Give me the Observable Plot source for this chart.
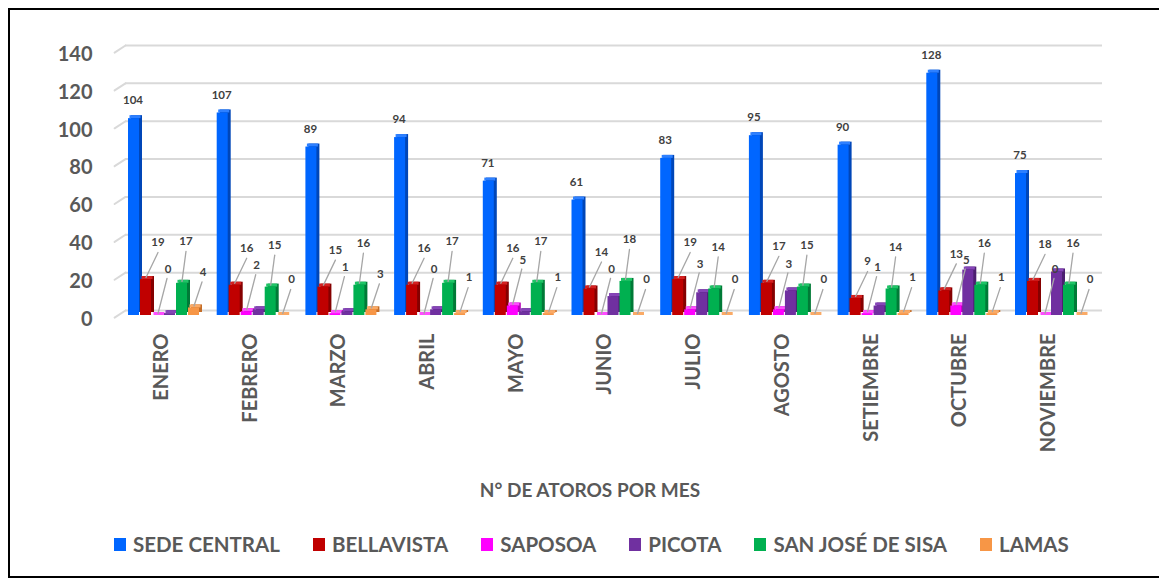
<!DOCTYPE html>
<html><head><meta charset="utf-8">
<script src="https://cdn.jsdelivr.net/npm/d3@7"></script>
<script src="https://cdn.jsdelivr.net/npm/@observablehq/plot@0.6"></script>
<style>
body{margin:0;background:#fff;font-family:Lato,"Open Sans",sans-serif;}
#wrap{position:relative;width:1159px;height:580px;overflow:hidden;background:#fff;}
#frame{position:absolute;left:8px;top:8px;width:1170px;height:570px;border:2px solid #000;box-sizing:border-box;}
#chart{position:absolute;left:0;top:0;}
#title{position:absolute;top:478px;left:0;width:1180px;text-align:center;font-weight:bold;font-size:19px;color:#595959;}
#legend{position:absolute;top:532px;left:114px;display:flex;align-items:center;gap:33px;font-weight:bold;font-size:20.5px;color:#595959;white-space:nowrap;}
#legend .it{display:flex;align-items:center;gap:7px;}
#legend .sw{width:12px;height:13px;display:inline-block;}
</style></head>
<body>
<div id="wrap">
<div id="frame"></div>
<div id="chart"></div>
<div id="title">N° DE ATOROS POR MES</div>
<div id="legend"></div>
</div>
<script>
const months = ["ENERO","FEBRERO","MARZO","ABRIL","MAYO","JUNIO","JULIO","AGOSTO","SETIEMBRE","OCTUBRE","NOVIEMBRE"];
const seriesNames = ["SEDE CENTRAL","BELLAVISTA","SAPOSOA","PICOTA","SAN JOSÉ DE SISA","LAMAS"];
const sedeCentral = [104,107,89,94,71,61,83,95,90,128,75];
const bellavista  = [19,16,15,16,16,14,19,17,9,13,18];
const saposoa     = [0,2,1,0,5,0,3,3,1,5,0];
const picota      = [1,3,2,3,2,10,12,13,5,24,23];
const sanJose     = [17,15,16,17,17,18,14,15,14,16,16];
const lamas       = [4,0,3,1,1,0,0,0,1,1,0];
const yTicks = [0,20,40,60,80,100,120,140];

const seriesValues = [sedeCentral, bellavista, saposoa, picota, sanJose, lamas];
const frontColors = ["#0066FF","#C00000","#FF00FF","#7030A0","#00B050","#F79646"];
const sideColors  = ["#0046B8","#850000","#B800B8","#4C1F70","#007A37","#C46D28"];
const topColors   = ["#2E80FF","#D42020","#FF4DFF","#8645B8","#1FC466","#FAAA66"];
// label placement style per series (offsets in px from the bar's top-front centre)
const labelStyle = [
  {label: true,  line: false, lx: -1, ly: -18},
  {label: true,  line: true,  ex: 12, ey: -27, lx: 12, ly: -37},
  {label: true,  line: true,  ex: 9,  ey: -37, lx: 10, ly: -46},
  {label: false},
  {label: true,  line: true,  ex: 4,  ey: -32, lx: 4,  ly: -42},
  {label: true,  line: true,  ex: 8,  ey: -26, lx: 9,  ly: -36}
];

const rows = seriesNames.map((s, i) => months.map((m, j) => ({month: m, series: s, value: seriesValues[i][j]})));

const BW = 72, SLOT = 12, FRONT = 11, DEPTH = 3;
const lineShape = {draw(context, length) { context.moveTo(0, 0); context.lineTo(0, -length); }};

const marks = [
  Plot.ruleY(yTicks, {y: d => d, stroke: "#d9d9d9", strokeWidth: 2, dy: -5}),
  Plot.vector(yTicks, {y: d => d, frameAnchor: "left", dy: -5, anchor: "start", length: 13, rotate: 237, shape: lineShape, stroke: "#d9d9d9", strokeWidth: 2})
];
seriesNames.forEach((s, i) => {
  const insetLeft = i * SLOT, insetRight = BW - i * SLOT - FRONT;
  marks.push(Plot.barY(rows[i], {x: "month", y: "value", fill: sideColors[i], insetLeft, insetRight, dx: DEPTH, dy: -DEPTH}));
  marks.push(Plot.barY(rows[i], {x: "month", y1: "value", y2: "value", fill: topColors[i], insetLeft, insetRight, insetTop: -DEPTH, dx: DEPTH / 2}));
  marks.push(Plot.barY(rows[i], {x: "month", y: "value", fill: frontColors[i], insetLeft, insetRight}));
});
seriesNames.forEach((s, i) => {
  const st = labelStyle[i];
  const cx = i * SLOT + FRONT / 2 - BW / 2;
  if (st.line) {
    const sx = 0, sy = -2;
    const ddx = st.ex - sx, ddy = st.ey - sy;
    marks.push(Plot.vector(rows[i], {x: "month", y: "value", dx: cx + sx, dy: sy, anchor: "start",
      length: Math.hypot(ddx, ddy), rotate: Math.atan2(ddx, -ddy) * 180 / Math.PI,
      shape: lineShape, stroke: "#a6a6a6", strokeWidth: 1.3}));
  }
  if (st.label) {
    marks.push(Plot.text(rows[i], {x: "month", y: "value", text: d => String(d.value), dx: cx + st.lx, dy: st.ly,
      fontSize: 11.5, fontWeight: "bold", fill: "#404040", textAnchor: "middle", lineAnchor: "middle"}));
  }
});
marks.push(Plot.axisY(yTicks, {tickSize: 0, tickPadding: 33, fontSize: 20, fontWeight: "bold", fill: "#595959", dy: 4, label: null}));
marks.push(Plot.axisX(months, {tickSize: 0, tickPadding: 18, tickRotate: -90, fontSize: 20, fontWeight: "bold", fill: "#595959", dx: -3, label: null}));

const chart = Plot.plot({
  width: 1159, height: 470,
  marginLeft: 125, marginRight: 57, marginTop: 50, marginBottom: 155,
  style: {fontFamily: "Lato, 'Open Sans', sans-serif", background: "transparent"},
  x: {domain: months, range: [128, 1087], paddingInner: 0.1883, paddingOuter: 0, round: false},
  y: {domain: [0, 140]},
  marks
});
document.getElementById("chart").appendChild(chart);

const legend = document.getElementById("legend");
seriesNames.forEach((s, i) => {
  const it = document.createElement("div"); it.className = "it";
  const sw = document.createElement("span"); sw.className = "sw"; sw.style.background = frontColors[i];
  const tx = document.createElement("span"); tx.textContent = s;
  it.appendChild(sw); it.appendChild(tx); legend.appendChild(it);
});
</script>
</body></html>
